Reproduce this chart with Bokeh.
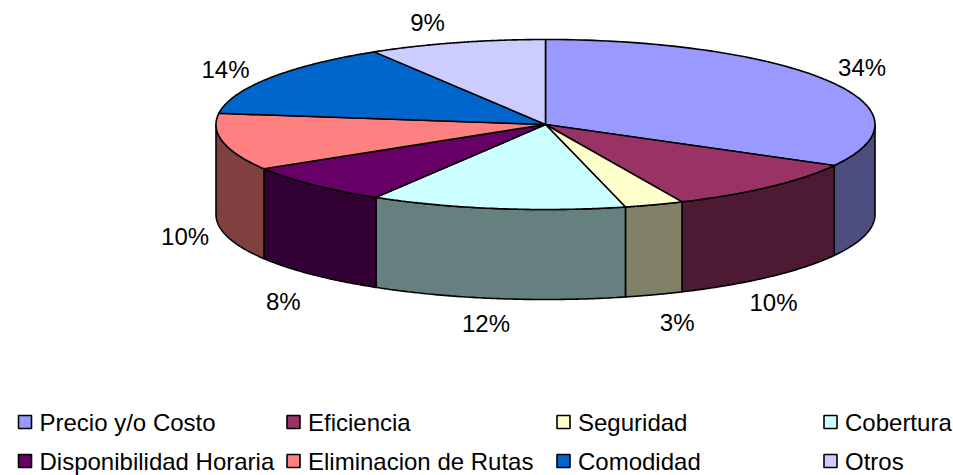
import numpy as np
from bokeh.plotting import figure
from bokeh.models import Range1d
from bokeh.core.properties import value
from bokeh.embed import file_html
from bokeh.resources import INLINE

categories = ["Precio y/o Costo", "Eficiencia", "Seguridad", "Cobertura",
              "Disponibilidad Horaria", "Eliminacion de Rutas", "Comodidad", "Otros"]
# share of the circle each slice occupies as drawn
shares = [33.0, 10.2, 2.9, 12.5, 7.7, 10.8, 14.2, 8.7]
# percentages printed next to the slices
labels = ["34%", "10%", "3%", "12%", "8%", "10%", "14%", "9%"]
top_colors = ["#9999FF", "#993366", "#FFFFCC", "#CCFFFF", "#660066", "#FF8080", "#0066CC", "#CCCCFF"]
side_colors = ["#4D4D80", "#4D1A33", "#808066", "#668080", "#330033", "#804040", "#003366", "#666680"]

# layout
CX, CY, RX, RY, DEPTH = 545.0, 124.0, 329.5, 85.0, 90.0
label_nudge = [(33, -14), (4, 26), (23, 28), (-11, 25), (-30, 27), (-38, 5), (-44, -9), (-29, -20)]
legend_col_x = [24.5, 293, 563, 830]
legend_row_y = [421.5, 460.5]
LABEL_PX = "24px"
LEGEND_PX = "24px"
FONT = "Liberation Sans"

W, H = 953, 475
p = figure(width=W, height=H, output_backend="svg", toolbar_location=None,
           x_range=Range1d(0, W), y_range=Range1d(H, 0),
           min_border=0, outline_line_color=None, background_fill_color="white")
p.axis.visible = False
p.grid.visible = False


def rim(theta):
    return CX + RX * np.sin(theta), CY - RY * np.cos(theta)


edges = np.radians(np.concatenate([[0], np.cumsum(shares)]) * 3.6)

# outer wall (only the front half of the rim can be seen)
for i in range(len(shares)):
    a, b = max(edges[i], np.pi / 2), min(edges[i + 1], 3 * np.pi / 2)
    if b <= a:
        continue
    t = np.linspace(a, b, 80)
    x, y = rim(t)
    p.patch(np.r_[x, x[::-1]], np.r_[y, y[::-1] + DEPTH],
            fill_color=side_colors[i], line_color="black", line_width=1.6)

# top of the pie
for i in range(len(shares)):
    t = np.linspace(edges[i], edges[i + 1], 100)
    x, y = rim(t)
    p.patch(np.r_[CX, x], np.r_[CY, y],
            fill_color=top_colors[i], line_color="black", line_width=1.6)

# percentage labels
for i, lab in enumerate(labels):
    mid = (edges[i] + edges[i + 1]) / 2
    x, y = rim(mid)
    if np.cos(mid) < 0:
        y += DEPTH
    p.text([x + label_nudge[i][0]], [y + label_nudge[i][1]], text=[lab],
           text_font=value(FONT), text_font_size=value(LABEL_PX), text_color="black",
           text_align="center", text_baseline="middle")

# legend: four columns, two rows
for i, cat in enumerate(categories):
    lx, ly = legend_col_x[i % 4], legend_row_y[i // 4]
    p.scatter([lx], [ly], marker="square", size=13, fill_color=top_colors[i],
              line_color="black", line_width=1.6)
    p.text([lx + 14.5], [ly], text=[cat], text_font=value(FONT),
           text_font_size=value(LEGEND_PX), text_color="black",
           text_align="left", text_baseline="middle")

open("out.html", "w").write(file_html(p, INLINE))
